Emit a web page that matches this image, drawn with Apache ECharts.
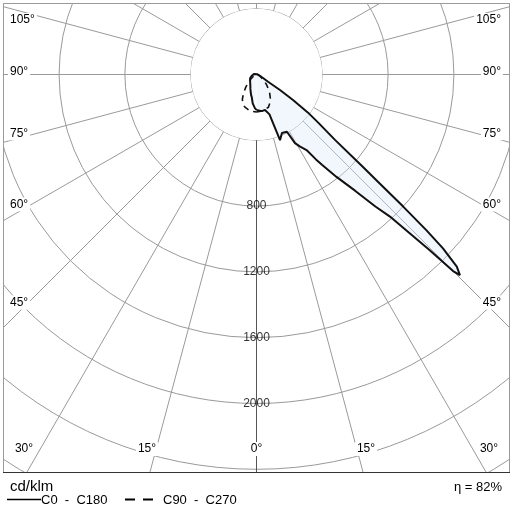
<!DOCTYPE html>
<html><head><meta charset="utf-8">
<script src="https://cdn.jsdelivr.net/npm/echarts@6/dist/echarts.min.js"></script>
<style>html,body{margin:0;padding:0;background:#fff}#c{width:512px;height:512px}</style>
</head><body><div id="c"></div>
<script>
// ---- data (cd/klm) ----
const c0Gamma   = [0, 2.5, 8, 13.5, 16, 18, 18.4, 19.7, 23.5, 28, 29.3, 31, 33.5, 35, 36, 38, 40.3, 42, 43.2, 44, 44.6, 45, 45.4, 46.2, 47, 47.5, 48, 48.5, 49, 50.2, 52, 53.5, 55, 56.6, 58, 62, 70, 80, 90, 120, 150, 180];
const c0Values  = [215, 226, 225, 222, 232, 255, 262, 424, 388, 394, 478, 510, 551, 630, 680, 790, 926, 1080, 1185, 1343, 1500, 1690, 1737, 1687, 1550, 1400, 1200, 1000, 860, 621, 480, 390, 271, 171, 83, 45, 20, 10, 6, 4, 3, 3];
const c180Gamma = [0, 2.5, 7.5, 12, 15, 23, 30, 40, 50, 60, 75, 90, 105, 120, 150, 180];
const c180Values= [215, 206, 177, 140, 128, 95, 75, 60, 48, 45, 30, 22, 14, 8, 5, 3];
const c90Gamma  = [0, 10, 20, 25, 30, 35, 40, 45, 50, 60, 70, 80, 90, 120, 150, 180];
const c90Values = [228, 225, 212, 192, 168, 140, 110, 85, 60, 32, 16, 8, 4, 2, 1, 1];
const c270Gamma = [0, 10, 20, 25, 30, 35, 40, 45, 50, 60, 70, 80, 90, 120, 150, 180];
const c270Values= [228, 225, 210, 196, 172, 135, 102, 75, 52, 28, 14, 7, 4, 2, 1, 1];
const radiusLabels = [800, 1200, 1600, 2000];
const angleLabels = [0, 15, 30, 45, 60, 75, 90, 105];
const unitText = 'cd/klm';
const legendSolid = 'C0  -  C180';
const legendDashed = 'C90  -  C270';
const efficiencyText = 'η = 82%';

// ---- layout ----
const cx = 256.5, cy = 74.5, pxPerCd = 0.1645, rMax = 2800, rStep = 400;
const box = {l: 3, t: 3, r: 510, b: 472};
const FONT = '"Liberation Sans", Arial, sans-serif';

function loop(rg, rv, lg, lv) {
  const pts = [];
  rg.forEach((g, i) => pts.push([rv[i], g]));
  for (let i = lg.length - 1; i >= 0; i--) pts.push([lv[i], 360 - lg[i]]);
  return pts;
}

const graphics = [];
// masks outside the frame
graphics.push({type:'rect', shape:{x:0,y:0,width:512,height:box.t}, style:{fill:'#fff'}, z:10, silent:true});
graphics.push({type:'rect', shape:{x:0,y:0,width:box.l,height:512}, style:{fill:'#fff'}, z:10, silent:true});
graphics.push({type:'rect', shape:{x:box.r,y:0,width:512-box.r,height:512}, style:{fill:'#fff'}, z:10, silent:true});
graphics.push({type:'rect', shape:{x:0,y:box.b,width:512,height:512-box.b}, style:{fill:'#fff'}, z:10, silent:true});
// frame
graphics.push({type:'rect', shape:{x:box.l+0.5,y:box.t+0.5,width:box.r-box.l-1,height:box.b-box.t}, style:{fill:null, stroke:'#9a9a9a', lineWidth:1}, z:11, silent:true});
graphics.push({type:'line', shape:{x1:box.l,y1:box.b+0.5,x2:box.r,y2:box.b+0.5}, style:{stroke:'#333', lineWidth:1}, z:12, silent:true});

function txt(x, y, text, align, size, extra) {
  return Object.assign({type:'text', x, y, z:20, silent:true,
    style: Object.assign({text, font: size + 'px ' + FONT, fill:'#000', align, textAlign: align,
      verticalAlign:'middle', textVerticalAlign:'middle'}, extra || {})});
}

// angle labels
angleLabels.forEach(g => {
  const rad = g * Math.PI / 180;
  const bg = {backgroundColor:'#fff', padding:[1, 2]};
  if (g >= 45) {
    const d = cx - 21;
    const yl = cy + d * Math.cos(rad) / Math.sin(rad);
    const y = Math.max(20, yl - 2.5 - 7 * Math.abs(Math.cos(rad)));
    graphics.push(txt(8, y, g + '°', 'left', 12, bg));
    graphics.push(txt(503, y, g + '°', 'right', 12, bg));
  } else {
    const off = (box.b - cy) * Math.tan(rad) + (g > 0 ? 3 : 0);
    graphics.push(txt(cx - off, 449, g + '°', 'center', 12, bg));
    if (g > 0) graphics.push(txt(cx + off, 449, g + '°', 'center', 12, bg));
  }
});

// legend
graphics.push(txt(10, 487, unitText, 'left', 15));
graphics.push({type:'line', shape:{x1:7,y1:499.5,x2:41,y2:499.5}, style:{stroke:'#000', lineWidth:1.5}, z:20, silent:true});
graphics.push(txt(41, 500, legendSolid, 'left', 13));
graphics.push({type:'line', shape:{x1:125,y1:499.5,x2:157,y2:499.5}, style:{stroke:'#000', lineWidth:2, lineDash:[10, 8]}, z:20, silent:true});
graphics.push(txt(163, 500, legendDashed, 'left', 13));
graphics.push(txt(502, 487, efficiencyText, 'right', 13));

const chart = echarts.init(document.getElementById('c'), null, {renderer:'canvas'});
chart.setOption({
  animation: false,
  backgroundColor: '#fff',
  polar: {center: [cx, cy], radius: rMax * pxPerCd},
  angleAxis: {
    type:'value', min:0, max:360, interval:15, startAngle:-90, clockwise:false, z:0,
    axisLine:{show:false}, axisTick:{show:false}, axisLabel:{show:false},
    splitLine:{show:true, lineStyle:{color:'#9a9a9a', width:1}}
  },
  radiusAxis: {
    type:'value', min:0, max:rMax, interval:rStep, z:1,
    axisLine:{show:false}, axisTick:{show:false}, axisLabel:{show:false},
    splitLine:{show:true, lineStyle:{color:'#9a9a9a', width:1}},
    splitArea:{show:true, areaStyle:{color:['#fff','rgba(0,0,0,0)','rgba(0,0,0,0)','rgba(0,0,0,0)','rgba(0,0,0,0)','rgba(0,0,0,0)','rgba(0,0,0,0)']}}
  },
  series: [
    {type:'line', coordinateSystem:'polar', data:[[rStep,0],[rMax,0]], symbol:'none', z:2, silent:true,
     lineStyle:{color:'#555', width:1}},
    {type:'line', coordinateSystem:'polar', name:'C0 - C180', data: loop(c0Gamma, c0Values, c180Gamma, c180Values),
     symbol:'none', z:3, silent:true, lineStyle:{color:'#111', width:2},
     areaStyle:{color:'rgba(214,232,250,0.5)', origin:'start'}},
    {type:'line', coordinateSystem:'polar', name:'C90 - C270', data: loop(c90Gamma, c90Values, c270Gamma, c270Values),
     symbol:'none', z:4, silent:true, lineStyle:{color:'#111', width:1.6, type:[6, 5]}},
    {type:'scatter', coordinateSystem:'polar', data: radiusLabels.map(v => [v, 0]), symbolSize:1, z:5, silent:true,
     itemStyle:{color:'rgba(0,0,0,0)'},
     label:{show:true, position:'inside', formatter: p => String(p.value[0]), color:'#000', fontSize:12, fontFamily:FONT}}
  ],
  graphic: {elements: graphics}
});
</script></body></html>
